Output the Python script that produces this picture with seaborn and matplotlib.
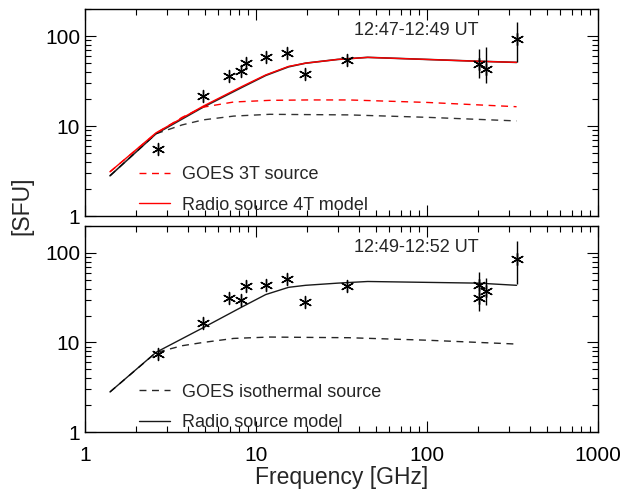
import numpy as np
import pandas as pd
import matplotlib
matplotlib.use("Agg")
import matplotlib.pyplot as plt
import seaborn as sns
from matplotlib.ticker import LogLocator, NullFormatter, FixedLocator, FixedFormatter

# ---- observed flux densities (SFU) ----
obs_freq = [2.67, 4.92, 6.94, 8.15, 8.7, 11.5, 15.1, 19.3, 34.0, 202.0, 221.0, 334.0]
obs_flux_a = [5.6, 21.8, 35.6, 41.3, 50.0, 58.0, 64.7, 37.5, 53.8, 49.4, 43.0, 92.0]

obs_freq_b = [2.67, 4.92, 6.94, 8.15, 8.7, 11.5, 15.1, 19.3, 34.0, 202.0, 202.0, 221.0, 334.0]
obs_flux_b = [7.4, 16.3, 31.0, 30.0, 42.4, 43.5, 51.5, 28.4, 42.4, 43.5, 31.5, 38.0, 86.0]

# error ranges for the high-frequency points
err_freq_a = [202.0, 221.0, 334.0]
err_lo_a = [34.0, 30.0, 51.0]
err_hi_a = [71.0, 75.0, 144.0]
err_freq_b = [202.0, 221.0, 334.0]
err_lo_b = [22.4, 26.5, 45.0]
err_hi_b = [61.0, 53.0, 137.0]

# ---- model spectra ----
model_freq = [1.4, 2.6, 4.9, 8.3, 11.4, 15.5, 19.5, 30.0, 45.0, 200.0, 334.0]
radio4t_a = [3.1, 8.4, 16.6, 27.6, 37.0, 46.0, 50.0, 55.0, 58.0, 52.5, 51.0]
radio_black_a = [2.8, 8.2, 16.2, 27.0, 36.5, 45.5, 50.0, 55.0, 58.0, 52.5, 51.0]
radio_b = [2.8, 7.75, 14.6, 25.0, 34.3, 41.3, 43.5, 46.0, 48.0, 46.0, 43.5]

goes_freq = [1.4, 2.6, 3.7, 4.9, 7.4, 12.0, 20.0, 35.0, 100.0, 334.0]
goes3t_a = [3.1, 8.3, 12.5, 16.2, 18.5, 19.3, 19.5, 19.5, 18.3, 16.4]
goes_black_a = [2.8, 8.2, 10.3, 11.7, 12.9, 13.5, 13.4, 13.3, 12.5, 11.4]
goes_iso_b = [2.8, 7.7, 9.2, 10.0, 11.1, 11.5, 11.4, 11.3, 10.6, 9.6]

labels_a = ["GOES 3T source", "Radio source 4T model"]
labels_b = ["GOES isothermal source", "Radio source model"]
times = ["12:47-12:49 UT", "12:49-12:52 UT"]

sns.set_theme(style="ticks")
plt.rcParams["font.family"] = ["Liberation Sans", "DejaVu Sans"]

fig = plt.figure(figsize=(6.24, 4.92), dpi=100)
ax1 = fig.add_axes([85 / 624, 1 - 216 / 492, 513 / 624, 207 / 492])
ax2 = fig.add_axes([85 / 624, 1 - 432 / 492, 513 / 624, 206 / 492])

DASH = (5, 4)
STAR = (6, 2, 0)


def line(ax, x, y, color, dashed=False, lw=1.0, label=None, alpha=1.0):
    df = pd.DataFrame({"f": x, "s": y})
    sns.lineplot(data=df, x="f", y="s", ax=ax, color=color, lw=lw,
                 sort=False, estimator=None, label=label, alpha=alpha,
                 dashes=False)
    l = ax.lines[-1]
    if dashed:
        l.set_dashes(DASH)
    return l


def points(ax, x, y, ex, lo, hi):
    df = pd.DataFrame({"f": x, "s": y})
    sns.scatterplot(data=df, x="f", y="s", ax=ax, marker=STAR, s=75,
                    color="black", linewidth=1.0, edgecolor="black", zorder=5)
    ax.vlines(ex, lo, hi, color="black", lw=1.0, zorder=4)


def style(ax, show_x):
    ax.set_xscale("log")
    ax.set_yscale("log")
    ax.set_xlim(1, 1000)
    ax.set_ylim(1, 200)
    ax.set_xlabel("")
    ax.set_ylabel("")
    for sp in ax.spines.values():
        sp.set_visible(True)
        sp.set_linewidth(1.0)
        sp.set_color("black")
    ax.xaxis.set_major_locator(LogLocator(base=10, numticks=10))
    ax.xaxis.set_minor_locator(LogLocator(base=10, subs=np.arange(2, 10), numticks=20))
    ax.yaxis.set_major_locator(FixedLocator([1, 10, 100]))
    ax.yaxis.set_major_formatter(FixedFormatter(["1", "10", "100"]))
    ax.yaxis.set_minor_locator(LogLocator(base=10, subs=np.arange(2, 10), numticks=20))
    ax.yaxis.set_minor_formatter(NullFormatter())
    ax.xaxis.set_minor_formatter(NullFormatter())
    ax.tick_params(which="both", direction="in", top=True, right=True,
                   colors="black", labelsize=15, width=0.8)
    ax.tick_params(which="major", length=8)
    ax.tick_params(which="minor", length=4)
    ax.tick_params(axis="x", pad=10)
    if show_x:
        ax.set_xticks([1, 10, 100, 1000])
        ax.set_xticklabels(["1", "10", "100", "1000"])
    else:
        ax.tick_params(axis="x", labelbottom=False)


# upper panel
line(ax1, goes_freq, goes_black_a, "black", dashed=True, alpha=0.8)
line(ax1, model_freq, radio_black_a, "black", lw=1.2, alpha=0.85)
line(ax1, goes_freq, goes3t_a, "red", dashed=True, label=labels_a[0])
line(ax1, model_freq, radio4t_a, "red", label=labels_a[1])
points(ax1, obs_freq, obs_flux_a, err_freq_a, err_lo_a, err_hi_a)
ax1.text(0.645, 0.895, times[0], transform=ax1.transAxes, ha="center",
         va="center", fontsize=13)

# lower panel
line(ax2, goes_freq, goes_iso_b, "black", dashed=True, alpha=0.85, label=labels_b[0])
line(ax2, model_freq, radio_b, "black", label=labels_b[1], alpha=0.9)
points(ax2, obs_freq_b, obs_flux_b, err_freq_b, err_lo_b, err_hi_b)
ax2.text(0.645, 0.895, times[1], transform=ax2.transAxes, ha="center",
         va="center", fontsize=13)

ax1.legend(loc="lower left", bbox_to_anchor=(0.08, -0.05), frameon=False,
           fontsize=13, handlelength=1.75, labelspacing=0.75,
           handletextpad=0.65, borderaxespad=0.3)
ax2.legend(loc="lower left", bbox_to_anchor=(0.08, -0.058), frameon=False,
           fontsize=13, handlelength=1.75, labelspacing=0.75,
           handletextpad=0.65, borderaxespad=0.3)

style(ax1, False)
style(ax2, True)

ax2.set_xlabel("Frequency [GHz]", fontsize=16.5, labelpad=1)
fig.text(0.035, 0.581, "[SFU]", rotation=90, ha="center", va="center", fontsize=16.5)

fig.savefig("out.png", dpi=100)
